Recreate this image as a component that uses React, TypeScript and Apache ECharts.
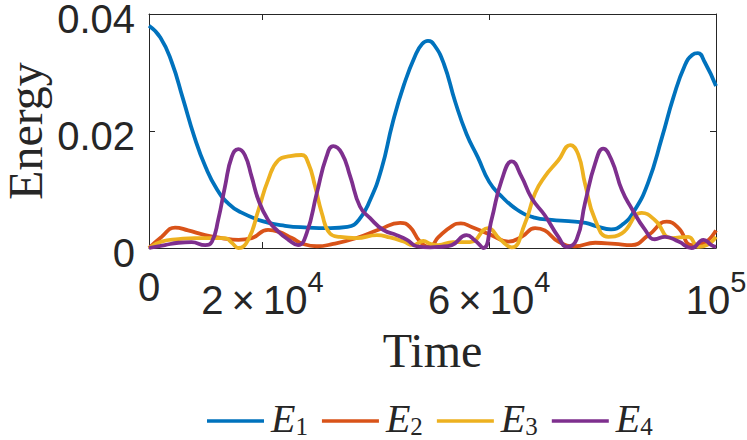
import React, { useEffect, useRef } from "react";
import * as echarts from "echarts";

const seriesNames = ["E1", "E2", "E3", "E4"];
const seriesColors = ["#0072BD", "#D95319", "#EDB120", "#7E2F8E"];

const xTicks = [0, 20000, 60000, 100000];
const yTicks = [0, 0.02, 0.04];

const e1T = [0, 2000, 4000, 6000, 8000, 10000, 12000, 14000, 16000, 20000, 24000, 28000, 32000, 35000, 37000, 39000, 41000, 43000, 45000, 47000, 48200, 49200, 50300, 52000, 54000, 56000, 58000, 60000, 62000, 65000, 68000, 71000, 74000, 77000, 79000, 81500, 83500, 85500, 88000, 90500, 92500, 94500, 95800, 96800, 98000, 100000];
const e1V = [0.038, 0.036, 0.0318, 0.0255, 0.019, 0.0138, 0.01, 0.0076, 0.0062, 0.0046, 0.0038, 0.0035, 0.0034, 0.0036, 0.0048, 0.0082, 0.0135, 0.0215, 0.028, 0.033, 0.0349, 0.0354, 0.0347, 0.0315, 0.025, 0.0195, 0.0155, 0.0113, 0.009, 0.0065, 0.0052, 0.0048, 0.0046, 0.0043, 0.0037, 0.0032, 0.004, 0.0062, 0.0111, 0.019, 0.0258, 0.0312, 0.0330, 0.0333, 0.0318, 0.0277];

const e2T = [0, 2200, 4600, 6900, 9900, 12800, 15800, 18100, 21000, 22800, 25200, 27200, 29600, 32500, 36600, 40700, 44300, 46000, 47800, 49500, 51000, 53500, 55000, 56900, 60400, 63400, 65700, 68100, 69800, 72200, 75100, 78700, 82200, 85100, 88100, 91300, 93400, 95700, 97500, 100000];
const e2V = [0, 0.0019, 0.0035, 0.003, 0.0022, 0.0017, 0.0014, 0.0017, 0.0031, 0.0028, 0.0017, 0.0007, 0.0003, 0.0007, 0.0017, 0.0032, 0.0043, 0.0036, 0.0011, 0.0002, 0.0018, 0.0038, 0.0042, 0.0036, 0.0022, 0.0011, 0.0019, 0.0034, 0.003, 0.0011, 0.0003, 0.0009, 0.0007, 0.0005, 0.0022, 0.0045, 0.0034, 0.0005, 0.0007, 0.003];

const e3T = [0, 2200, 5200, 8100, 13400, 14600, 15750, 17500, 19300, 21000, 22800, 24900, 26900, 28100, 29300, 30500, 31900, 33700, 36600, 40200, 42500, 44900, 46600, 48400, 49600, 51000, 53600, 56600, 59800, 61900, 64000, 66300, 68100, 69800, 72200, 74300, 75700, 76900, 78700, 81000, 83400, 86900, 89200, 92200, 95100, 96900, 98400, 100000];
const e3V = [0, 0.0011, 0.0015, 0.0017, 0.0017, 0.0009, 0, 0.0014, 0.0065, 0.0116, 0.015, 0.0157, 0.0159, 0.0145, 0.0105, 0.0059, 0.0025, 0.0019, 0.0017, 0.0022, 0.0018, 0.0011, 0.0005, 0.0012, 0.0007, 0.0005, 0.001, 0.001, 0.0034, 0.0015, 0.0001, 0.0042, 0.0094, 0.0122, 0.015, 0.0176, 0.016, 0.011, 0.0048, 0.0019, 0.0025, 0.006, 0.0048, 0.0017, 0.0019, 0.0002, 0.0005, 0.0019];

const e4T = [0, 2800, 5200, 7500, 9900, 11100, 12200, 13400, 14600, 15750, 16900, 18100, 19300, 21000, 22800, 24600, 26300, 27800, 29600, 31300, 32500, 34000, 35500, 37200, 39000, 41300, 43700, 45500, 47200, 49600, 51300, 53400, 56000, 57500, 59000, 60400, 62200, 64000, 65700, 67500, 69800, 72200, 73700, 75400, 76900, 78700, 80100, 81600, 83400, 85100, 87500, 89200, 91000, 93400, 95700, 97800, 99200, 100000];
const e4V = [0, 0.0005, 0.0009, 0.001, 0.0005, 0.0011, 0.0048, 0.0105, 0.0156, 0.0169, 0.0159, 0.0122, 0.0082, 0.0048, 0.0028, 0.0014, 0.0005, 0.0025, 0.0094, 0.0156, 0.0174, 0.0162, 0.0122, 0.0071, 0.0051, 0.0031, 0.0022, 0.0014, 0.0003, 0.0001, 0.0002, 0.0005, 0.0022, 0.0013, 0, 0.0048, 0.0116, 0.0148, 0.0122, 0.0085, 0.0056, 0.0019, 0.0002, 0.0014, 0.0077, 0.0145, 0.017, 0.015, 0.0099, 0.0068, 0.0031, 0.0015, 0.0019, 0.0011, 0, 0.0014, 0.0005, 0.0002];

const seriesT = [e1T, e2T, e3T, e4T];
const seriesV = [e1V, e2V, e3V, e4V];

const INK = "#262626";
const SANS = "'Liberation Sans', Arial, Helvetica, sans-serif";
const SERIF = "'Liberation Serif', 'Times New Roman', serif";

function xLabel(v: number): string {
  if (v === 0) return "{n|0}";
  const exp = Math.floor(Math.log10(v) + 1e-9);
  const mant = Math.round(v / Math.pow(10, exp));
  if (mant === 1) return `{n|10}{p|${exp}}`;
  return `{n|${mant}\u2009\u00d7\u200910}{p|${exp}}`;
}

function yLabel(v: number): string {
  return `{y|${v === 0 ? "0" : v.toFixed(2)}}`;
}

export default function App() {
  const ref = useRef<HTMLDivElement>(null);
  useEffect(() => {
    if (!ref.current) return;
    const chart = echarts.init(ref.current, null, { renderer: "svg" });
    const tickCommon = {
      show: true,
      inside: true,
      length: 6,
      lineStyle: { color: INK, width: 1 },
    };
    const option: any = {
      animation: false,
      backgroundColor: "#ffffff",
      grid: {
        left: 149,
        right: 31,
        top: 14,
        bottom: 192,
        containLabel: false,
        outerBoundsMode: "none",
        show: false,
      },
      legend: {
        data: seriesNames,
        left: 207,
        top: 398,
        padding: 0,
        icon: "rect",
        itemWidth: 57,
        itemHeight: 3.5,
        itemGap: 14,
        formatter: (name: string) => `{e|E}{s|${name.slice(1)}}`,
        textStyle: {
          color: INK,
          rich: {
            e: {
              fontFamily: SERIF,
              fontStyle: "italic",
              fontSize: 40,
              color: INK,
              padding: [0, 0, 6, 2],
            },
            s: {
              fontFamily: SERIF,
              fontSize: 25,
              color: INK,
              padding: [10, 0, 0, 0],
            },
          },
        },
      },
      xAxis: [
        {
          type: "value",
          min: 0,
          max: 100000,
          interval: 20000,
          position: "bottom",
          axisLine: { show: true, onZero: false, lineStyle: { color: INK, width: 1 } },
          axisTick: { ...tickCommon, customValues: xTicks },
          splitLine: { show: false },
          axisLabel: {
            customValues: xTicks,
            margin: 19,
            formatter: xLabel,
            color: INK,
            rich: {
              n: { fontFamily: SANS, fontSize: 40, color: INK },
              p: { fontFamily: SANS, fontSize: 29, color: INK, padding: [0, 0, 37, 0] },
            },
          },
        },
        {
          type: "value",
          min: 0,
          max: 100000,
          interval: 20000,
          position: "top",
          axisLine: { show: true, onZero: false, lineStyle: { color: INK, width: 1 } },
          axisTick: { ...tickCommon, customValues: xTicks },
          splitLine: { show: false },
          axisLabel: { show: false },
        },
      ],
      yAxis: [
        {
          type: "value",
          min: 0,
          max: 0.04,
          interval: 0.02,
          position: "left",
          axisLine: { show: true, onZero: false, lineStyle: { color: INK, width: 1 } },
          axisTick: { ...tickCommon, customValues: yTicks },
          splitLine: { show: false },
          axisLabel: {
            customValues: yTicks,
            margin: 14,
            color: INK,
            formatter: yLabel,
            rich: {
              y: { fontFamily: SANS, fontSize: 40, lineHeight: 18, color: INK, padding: [9, 0, 0, 0] },
            },
          },
        },
        {
          type: "value",
          min: 0,
          max: 0.04,
          interval: 0.02,
          position: "right",
          axisLine: { show: true, onZero: false, lineStyle: { color: INK, width: 1 } },
          axisTick: { ...tickCommon, customValues: yTicks },
          splitLine: { show: false },
          axisLabel: { show: false },
        },
      ],
      graphic: [
        {
          type: "text",
          x: 432.5,
          y: 350.5,
          style: {
            text: "Time",
            font: `48px ${SERIF}`,
            fill: INK,
            textAlign: "center",
            textVerticalAlign: "middle",
          },
        },
        {
          type: "text",
          x: 25,
          y: 131,
          rotation: Math.PI / 2,
          style: {
            text: "Energy",
            font: `48px ${SERIF}`,
            fill: INK,
            textAlign: "center",
            textVerticalAlign: "middle",
          },
        },
      ],
      series: seriesNames.map((name, i) => ({
        name,
        type: "line",
        xAxisIndex: 0,
        yAxisIndex: 0,
        data: seriesT[i].map((t, k) => [t, seriesV[i][k]]),
        showSymbol: false,
        symbol: "none",
        smooth: 0.5,
        color: seriesColors[i],
        lineStyle: { color: seriesColors[i], width: 3.8 },
        clip: true,
        z: 2 + i,
      })),
    };
    chart.setOption(option);
    return () => chart.dispose();
  }, []);
  return (
    <div
      ref={ref}
      style={{ position: "absolute", left: 0, top: 0, width: 747, height: 440, background: "#fff" }}
    />
  );
}
